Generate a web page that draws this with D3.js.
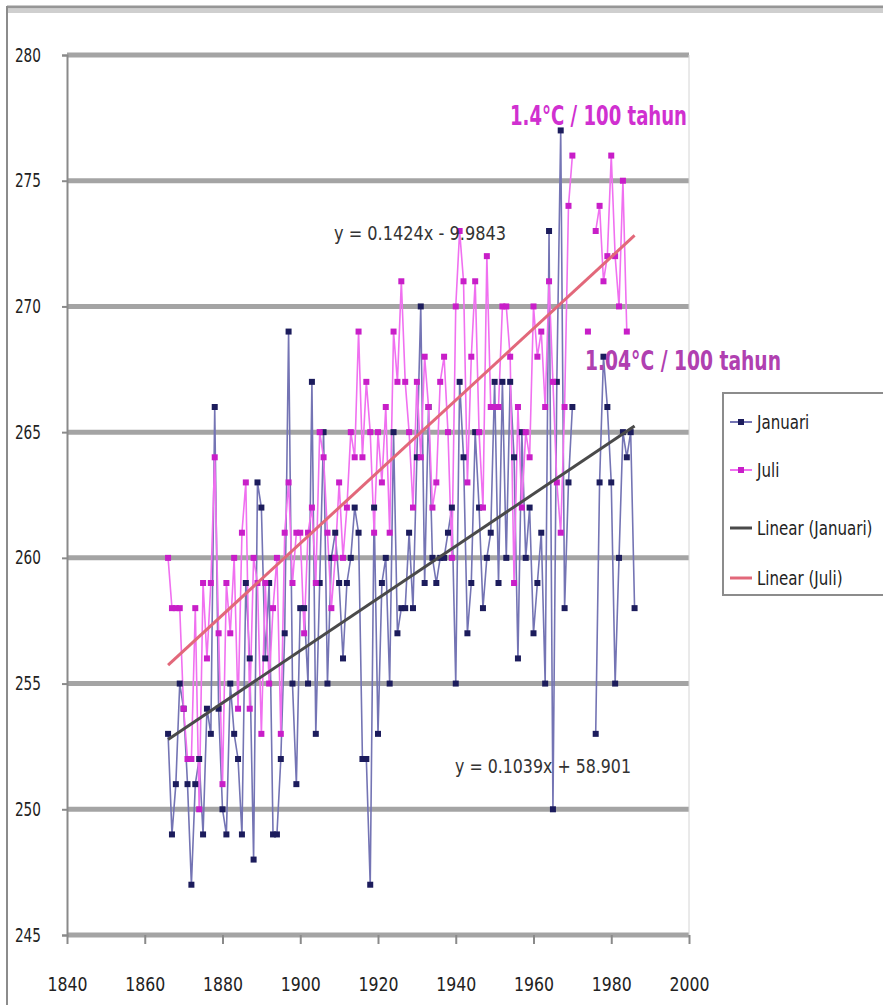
<!DOCTYPE html>
<html>
<head>
<meta charset="utf-8">
<script src="https://cdn.jsdelivr.net/npm/d3@7"></script>
<style>
  body { margin: 0; background: #fff; }
  text { font-family: "Liberation Sans Narrow", "DejaVu Sans Condensed", "Arial Narrow", sans-serif; }
</style>
</head>
<body>
<div class="chart"></div>
<script>
// years 1866..1986, null = no data
const years = d3.range(1866, 1987);

const januari = [
  253, 249, 251, 255, 254, 251, 247, 251, 252, 249,  // 1866-1875
  254, 253, 266, 254, 250, 249, 255, 253, 252, 249,  // 1876-1885
  259, 256, 248, 263, 262, 256, 259, 249, 249, 252,  // 1886-1895
  257, 269, 255, 251, 258, 258, 255, 267, 253, 259,  // 1896-1905
  265, 255, 260, 261, 259, 256, 259, 260, 262, 261,  // 1906-1915
  252, 252, 247, 262, 253, 259, 260, 255, 265, 257,  // 1916-1925
  258, 258, 261, 258, 264, 270, 259, 266, 260, 259,  // 1926-1935
  260, 260, 261, 262, 255, 267, 264, 257, 259, 265,  // 1936-1945
  262, 258, 260, 261, 267, 259, 267, 260, 267, 264,  // 1946-1955
  256, 265, 260, 262, 257, 259, 261, 255, 273, 250,  // 1956-1965
  267, 277, 258, 263, 266, null, null, null, null, null, // 1966-1975
  253, 263, 268, 266, 263, 255, 260, 265, 264, 265,  // 1976-1985
  258                                                // 1986
];

const juli = [
  260, 258, 258, 258, 254, 252, 252, 258, 250, 259,  // 1866-1875
  256, 259, 264, 257, 251, 259, 257, 260, 254, 261,  // 1876-1885
  263, 254, 260, 259, 253, 259, 255, 258, 260, 253,  // 1886-1895
  261, 263, 259, 261, 261, 257, 261, 262, 259, 265,  // 1896-1905
  264, 261, 258, 260, 263, 260, 262, 265, 264, 269,  // 1906-1915
  264, 267, 265, 261, 265, 263, 266, 261, 269, 267,  // 1916-1925
  271, 267, 265, 262, 267, 264, 268, 266, 262, 263,  // 1926-1935
  267, 268, 265, 260, 270, 273, 271, 263, 268, 271,  // 1936-1945
  265, 262, 272, 266, 266, 266, 270, 270, 268, 259,  // 1946-1955
  266, 262, 265, 264, 270, 268, 269, 266, 271, 267,  // 1956-1965
  263, 261, 266, 274, 276, null, null, null, 269, null, // 1966-1975
  273, 274, 271, 272, 276, 272, 270, 275, 269, null,  // 1976-1985
  null                                               // 1986
];

const seriesNames = ["Januari", "Juli", "Linear (Januari)", "Linear (Juli)"];
const yTicks = [245, 250, 255, 260, 265, 270, 275, 280];
const xTicks = [1840, 1860, 1880, 1900, 1920, 1940, 1960, 1980, 2000];

// trend lines as printed on the chart
const trendJan = { slope: 0.1039, icept: 58.901, label: "y = 0.1039x + 58.901" };
const trendJul = { slope: 0.1424, icept: -9.9843, label: "y = 0.1424x - 9.9843" };

const width = 883, height = 1005;

const svg = d3.select(".chart").append("svg")
  .attr("width", width)
  .attr("height", height);

// outer chart frame
svg.append("line").attr("x1", 7).attr("x2", width).attr("y1", 7).attr("y2", 7)
  .attr("stroke", "#969696").attr("stroke-width", 3);
svg.append("line").attr("x1", 7).attr("x2", width).attr("y1", 11).attr("y2", 11)
  .attr("stroke", "#cfcfcf").attr("stroke-width", 4);
svg.append("line").attr("x1", 7).attr("x2", 7).attr("y1", 6).attr("y2", height)
  .attr("stroke", "#8c8c8c").attr("stroke-width", 2);

const xScale = d3.scaleLinear().domain([1840, 2000]).range([67, 689]);
const yScale = d3.scaleLinear().domain([245, 280]).range([935, 55]);

// gridlines
svg.append("g").selectAll("line")
  .data(yTicks)
  .enter().append("line")
  .attr("x1", xScale(1840)).attr("x2", xScale(2000))
  .attr("y1", d => yScale(d)).attr("y2", d => yScale(d))
  .attr("stroke", "#a4a4a4").attr("stroke-width", 5);

// right edge of plot area
svg.append("line")
  .attr("x1", xScale(2000)).attr("x2", xScale(2000))
  .attr("y1", yScale(280)).attr("y2", yScale(245))
  .attr("stroke", "#d4d4d4").attr("stroke-width", 1);

const yAxis = d3.axisLeft(yScale).tickValues(yTicks).tickSize(5).tickPadding(10);
svg.append("g")
  .attr("class", "axis y-axis")
  .attr("transform", `translate(${xScale(1840)},0)`)
  .call(yAxis)
  .call(g => g.select(".domain").attr("stroke", "#8a8a8a").attr("stroke-width", 2))
  .call(g => g.selectAll(".tick line").attr("stroke", "#8a8a8a").attr("stroke-width", 2))
  .call(g => g.selectAll(".tick text").attr("font-size", 19).attr("fill", "#222")
    .attr("transform", "scale(0.8,1)").attr("x", -26 / 0.8));

const xAxis = d3.axisBottom(xScale).tickValues(xTicks).tickFormat(d3.format("d")).tickSize(9).tickPadding(34);
svg.append("g")
  .attr("class", "axis x-axis")
  .attr("transform", `translate(0,${yScale(245)})`)
  .call(xAxis)
  .call(g => g.select(".domain").attr("stroke", "none"))
  .call(g => g.selectAll(".tick line").attr("stroke", "#8a8a8a").attr("stroke-width", 2))
  .call(g => g.selectAll(".tick text").attr("font-size", 19).attr("fill", "#222")
    .attr("textLength", 40).attr("lengthAdjust", "spacingAndGlyphs"));

const janData = years.map((yr, i) => ({ year: yr, v: januari[i] }));
const julData = years.map((yr, i) => ({ year: yr, v: juli[i] }));

const line = d3.line()
  .defined(d => d.v != null)
  .x(d => xScale(d.year))
  .y(d => yScale(d.v));

// Januari
svg.append("path").datum(janData)
  .attr("d", line).attr("fill", "none")
  .attr("stroke", "#7474b4").attr("stroke-width", 1.6);

// Juli
svg.append("path").datum(julData)
  .attr("d", line).attr("fill", "none")
  .attr("stroke", "#f070f0").attr("stroke-width", 1.6);

svg.append("g").selectAll("rect")
  .data(janData.filter(d => d.v != null))
  .enter().append("rect")
  .attr("x", d => xScale(d.year) - 3).attr("y", d => yScale(d.v) - 3)
  .attr("width", 6).attr("height", 6)
  .attr("fill", "#1c1c5c");

svg.append("g").selectAll("rect")
  .data(julData.filter(d => d.v != null))
  .enter().append("rect")
  .attr("x", d => xScale(d.year) - 3).attr("y", d => yScale(d.v) - 3)
  .attr("width", 6).attr("height", 6)
  .attr("fill", "#c81ec8");

// trend lines
const x0 = years[0], x1 = years[years.length - 1];
svg.append("line")
  .attr("x1", xScale(x0)).attr("y1", yScale(trendJul.slope * x0 + trendJul.icept))
  .attr("x2", xScale(x1)).attr("y2", yScale(trendJul.slope * x1 + trendJul.icept))
  .attr("stroke", "#e2687a").attr("stroke-width", 3);
svg.append("line")
  .attr("x1", xScale(x0)).attr("y1", yScale(trendJan.slope * x0 + trendJan.icept))
  .attr("x2", xScale(x1)).attr("y2", yScale(trendJan.slope * x1 + trendJan.icept))
  .attr("stroke", "#4a4a4a").attr("stroke-width", 3);

// equation labels
svg.append("text").attr("x", 334).attr("y", 240)
  .attr("font-size", 19).attr("fill", "#333")
  .attr("textLength", 172).attr("lengthAdjust", "spacingAndGlyphs")
  .text(trendJul.label);
svg.append("text").attr("x", 455).attr("y", 773)
  .attr("font-size", 19).attr("fill", "#333")
  .attr("textLength", 176).attr("lengthAdjust", "spacingAndGlyphs")
  .text(trendJan.label);

// rate annotations
svg.append("text").attr("x", 510).attr("y", 125)
  .attr("font-size", 27).attr("font-weight", "bold").attr("fill", "#d030d0")
  .attr("textLength", 177).attr("lengthAdjust", "spacingAndGlyphs")
  .text("1.4°C / 100 tahun");
svg.append("text").attr("x", 585).attr("y", 370)
  .attr("font-size", 27).attr("font-weight", "bold").attr("fill", "#b040b0")
  .attr("textLength", 196).attr("lengthAdjust", "spacingAndGlyphs")
  .text("1.04°C / 100 tahun");

// legend
const legend = svg.append("g").attr("transform", "translate(723,393)");
legend.append("rect").attr("x", 0).attr("y", 0).attr("width", 175).attr("height", 202)
  .attr("fill", "#fff").attr("stroke", "#8c8c8c").attr("stroke-width", 2);

const legendItems = [
  { name: seriesNames[0], color: "#7474b4", mark: "#1c1c5c", w: 2 },
  { name: seriesNames[1], color: "#f070f0", mark: "#c81ec8", w: 2 },
  { name: seriesNames[2], color: "#4a4a4a", mark: null, w: 3 },
  { name: seriesNames[3], color: "#e2687a", mark: null, w: 3 }
];
const legendY = [29, 77, 135, 185];

legendItems.forEach((it, i) => {
  const g = legend.append("g").attr("transform", `translate(0,${legendY[i]})`);
  g.append("line").attr("x1", 7).attr("x2", 29).attr("y1", 0).attr("y2", 0)
    .attr("stroke", it.color).attr("stroke-width", it.w);
  if (it.mark) {
    g.append("rect").attr("x", 15).attr("y", -3).attr("width", 6).attr("height", 6).attr("fill", it.mark);
  }
  g.append("text").attr("x", 34).attr("y", 7)
    .attr("font-size", 19).attr("fill", "#222")
    .attr("transform", "scale(0.88,1)").attr("x", 34 / 0.88)
    .text(it.name);
});
</script>
</body>
</html>
